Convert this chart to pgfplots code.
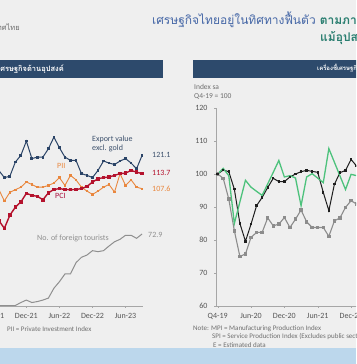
\documentclass[border=0pt]{standalone}
\usepackage{fontspec}
\setmainfont{Carlito}
\newfontfamily\thai[Script=Thai]{Loma}
\usepackage{pgfplots}
\pgfplotsset{compat=1.18}
\definecolor{bg}{HTML}{EFEFEF}
\definecolor{band}{HTML}{BCD7EC}
\definecolor{bar}{HTML}{2D4A6C}
\definecolor{navy}{HTML}{2B4467}
\definecolor{pcired}{HTML}{B4122D}
\definecolor{piiorange}{HTML}{E9873E}
\definecolor{tourgray}{HTML}{8F8F8F}
\definecolor{mpiblack}{HTML}{1E1E1E}
\definecolor{spigreen}{HTML}{4DC27C}
\definecolor{rgray}{HTML}{8C8C8C}
\definecolor{titleblue}{HTML}{4466A6}
\definecolor{titleteal}{HTML}{2A7E70}
\definecolor{txtgray}{HTML}{6E6E6E}
\definecolor{tickgray}{HTML}{555555}
\begin{document}
\begin{tikzpicture}[x=1pt,y=1pt]
\begin{scope}
\clip (0,0) rectangle (356,364);
\fill[bg] (0,0) rectangle (356,364);
\fill[band] (0,0) rectangle (356,16);
% header bars
\fill[bar] (-5,286) rectangle (163,304);
\fill[bar] (193,286) rectangle (370,304);
\node[anchor=east, inner sep=0, text=white, font=\thai\bfseries\fontsize{7.5}{9}\selectfont] at (64,295.5) {เครื่องชี้เศรษฐกิจด้านอุปสงค์};
\node[anchor=west, inner sep=0, text=white, font=\thai\bfseries\fontsize{6}{7}\selectfont] at (317,295.5) {เครื่องชี้เศรษฐกิจด้านอุปทาน};
% titles
\node[anchor=east, inner sep=0, text=txtgray, font=\thai\fontsize{7.5}{9}\selectfont] at (20,337) {ธนาคารแห่งประเทศไทย};
\node[anchor=west, inner sep=0, font=\thai\fontsize{12}{14}\selectfont] at (152,344) {\textcolor{titleblue}{เศรษฐกิจไทยอยู่ในทิศทางฟื้นตัว} \textcolor{titleteal}{\bfseries ตามภาคการท่องเที่ยว}};
\node[anchor=west, inner sep=0, text=titleteal, font=\thai\bfseries\fontsize{12}{14}\selectfont] at (320,326) {แม้อุปสงค์ต่างประเทศ};
% left chart: indices
\begin{axis}[at={(-12.2pt,58pt)}, anchor=south west, scale only axis,
  width=155.1pt, height=197.2pt, xmin=-7, xmax=21.2, ymin=60, ymax=140,
  axis x line*=bottom, axis y line=none, ytick=\empty,
  xtick={-6,0,6,12,18}, xticklabels={Jun-21,Dec-21,Jun-22,Dec-22,Jun-23},
  tick align=outside, major tick length=2pt,
  axis line style={draw=gray!70}, tick style={draw=gray!70},
  xticklabel style={font=\fontsize{8}{9}\selectfont, text=tickgray, yshift=-2pt},
  clip=false]
\addplot[navy, line width=1pt, mark=square*, mark size=0.9pt] coordinates {
(-5,115) (-4,112.1) (-3,112.6) (-2,118.4) (-1,121.1) (0,126.9) (1,119.8) (2,120.4) (3,120.4) (4,123.8) (5,128.5) (6,124.2) (7,120.4) (8,119.1) (9,119.1) (10,113.7) (11,113.0) (12,112.1) (13,115.0) (14,118.8) (15,118.0) (16,117.4) (17,118.8) (18,119.8) (19,118.0) (20,115.7) (21,121.1)};
\addplot[piiorange, line width=0.9pt, mark=square*, mark size=0.7pt] coordinates {
(-5,107.3) (-4,102.6) (-3,106.1) (-2,107.2) (-1,108.2) (0,110.3) (1,109.3) (2,108.2) (3,108.2) (4,108.9) (5,109.9) (6,112.1) (7,108.9) (8,113.0) (9,111.2) (10,108.2) (11,106.6) (12,105.3) (13,106.6) (14,108.2) (15,109.3) (16,106.2) (17,113.7) (18,108.9) (19,111.2) (20,108.2) (21,107.6)};
\addplot[pcired, line width=1.4pt, mark=square*, mark size=1.1pt] coordinates {
(-5,94.7) (-4,91.5) (-3,96.8) (-2,100.1) (-1,102.2) (0,105.7) (1,104.9) (2,104.5) (3,103.1) (4,105.9) (5,107.3) (6,107.6) (7,107.3) (8,107.2) (9,107.3) (10,107.6) (11,108.5) (12,110.3) (13,111.6) (14,112.1) (15,112.3) (16,113.0) (17,113.7) (18,113.9) (19,115.0) (20,114.3) (21,113.7)};
\end{axis}
% left chart: tourists
\begin{axis}[at={(-12.2pt,58pt)}, anchor=south west, scale only axis,
  width=155.1pt, height=197.2pt, xmin=-7, xmax=21.2, ymin=0, ymax=199.6,
  hide axis]
\addplot[tourgray, line width=1pt] coordinates {
(-7,0.3) (-6,0.3) (-5,0.3) (-4,0.3) (-3,0.3) (-2,0.5) (-1,3.5) (0,6) (1,3.5) (2,4.5) (3,6) (4,8) (5,18) (6,24.6) (7,32.4) (8,32.4) (9,43.8) (10,49.3) (11,51.6) (12,56) (13,55) (14,56) (15,60.7) (16,65) (17,67.5) (18,71.6) (19,71.6) (20,68.5) (21,72.9)};
\end{axis}
% left chart labels
\begin{scope}[font=\fontsize{8}{9}\selectfont, inner sep=0]
\node[anchor=west, text=navy!80!gray] at (92,225) {Export value};
\node[anchor=west, text=navy!80!gray] at (92,216) {excl. gold};
\node[anchor=west, text=piiorange] at (57,198) {PII};
\node[anchor=west, text=pcired!80!violet] at (55,168) {PCI};
\node[anchor=west, text=navy!80!gray] at (152,209) {121.1};
\node[anchor=west, text=pcired] at (152,191) {113.7};
\node[anchor=west, text=piiorange] at (152,175) {107.6};
\node[anchor=west, text=tourgray] at (148,129) {72.9};
\node[anchor=west, text=tourgray] at (37,126) {No. of foreign tourists};
\end{scope}
\node[anchor=west, inner sep=0, text=txtgray, font=\fontsize{7}{8}\selectfont] at (7,35) {PII = Private Investment Index};
% right chart
\begin{axis}[at={(216pt,58pt)}, anchor=south west, scale only axis,
  width=146.2pt, height=198pt, xmin=-0.3, xmax=26, ymin=60, ymax=120,
  axis x line*=bottom, axis y line*=left,
  ytick={60,70,...,120}, xtick={0,6,12,18,24},
  xticklabels={Q4-19,Jun-20,Dec-20,Jun-21,Dec-21},
  tick align=outside, major tick length=2pt,
  axis line style={draw=gray!70}, tick style={draw=gray!70},
  ticklabel style={font=\fontsize{8}{9}\selectfont, text=tickgray},
  xticklabel style={yshift=-2pt}, yticklabel style={xshift=-3pt},
  /pgf/number format/assume math mode=true,
  clip=false]
\addplot[rgray, line width=1.1pt, mark=square*, mark size=1.2pt] coordinates {
(0,100) (1,98.7) (2,92.4) (3,82.8) (4,75) (5,75.8) (6,80.8) (7,82.3) (8,82.3) (9,86.7) (10,84.3) (11,84.8) (12,86.8) (13,83.8) (14,86.3) (15,89.1) (16,85.5) (17,83.8) (18,83.8) (19,83.8) (20,81.1) (21,85.8) (22,86.7) (23,89.9) (24,91.9) (25,90.9)};
\addplot[mpiblack, line width=1pt, mark=square*, mark size=0.7pt] coordinates {
(0,100) (1,101.2) (2,100.7) (3,95.4) (4,85) (5,79.6) (6,84.8) (7,90.4) (8,92.9) (9,95.9) (10,98.7) (11,97.7) (12,97.7) (13,99.1) (14,100.0) (15,100.7) (16,101.1) (17,100.8) (18,100.5) (19,94.4) (20,88.9) (21,96.9) (22,100.4) (23,101.1) (24,104.4) (25,102.4)};
\addplot[spigreen, line width=1.3pt] coordinates {
(0,100) (1,101.7) (2,99.5) (3,85) (5,98.1) (6,96) (8,93.5) (10,100.5) (11,104.1) (12,99.1) (13,99.5) (14,98.8) (15,90.4) (16,99.1) (17,100.1) (19,97.4) (20,107.7) (23,95.3) (24,99.9) (25,99.5)};
\end{axis}
\begin{scope}[inner sep=0, text=txtgray]
\node[anchor=west, font=\fontsize{7.5}{9}\selectfont] at (194,277) {Index sa};
\node[anchor=west, font=\fontsize{7.5}{9}\selectfont] at (194,267) {Q4-19 = 100};
\node[anchor=west, font=\fontsize{7}{8}\selectfont] at (193,35) {Note: MPI = Manufacturing Production Index};
\node[anchor=west, font=\fontsize{7}{8}\selectfont] at (212,27) {SPI = Service Production Index (Excludes public sector)};
\node[anchor=west, font=\fontsize{7}{8}\selectfont] at (213,18.5) {E = Estimated data};
\end{scope}
\end{scope}
\pgfresetboundingbox
\path[use as bounding box] (0,0) rectangle (356,364);
\end{tikzpicture}
\end{document}
